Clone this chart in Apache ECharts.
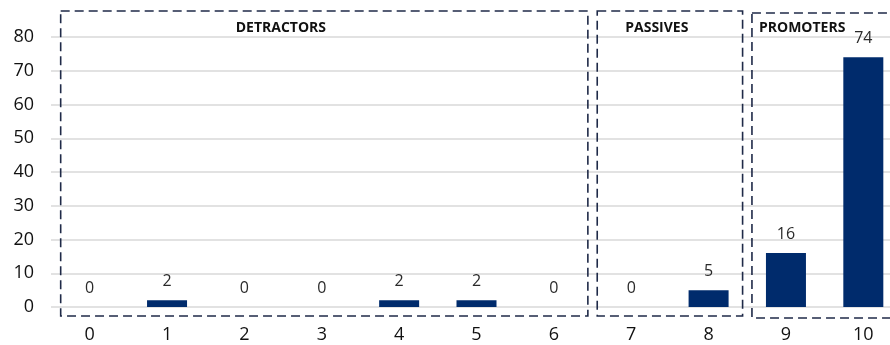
<!DOCTYPE html>
<html>
<head>
<meta charset="utf-8">
<script src="https://cdn.jsdelivr.net/npm/echarts@6/dist/echarts.min.js"></script>
<style>
  html, body { margin: 0; padding: 0; background: #fff; }
  #chart { width: 890px; height: 345px; }
</style>
</head>
<body>
<div id="chart"></div>
<script>
// NPS score distribution: count of responses per score 0-10
const scores = ['0', '1', '2', '3', '4', '5', '6', '7', '8', '9', '10'];
const counts = [0, 2, 0, 0, 2, 2, 0, 0, 5, 16, 74];
const yTicks = { min: 0, max: 80, interval: 10 };

// Score groups, given as first/last category index
const groupNames = ['DETRACTORS', 'PASSIVES', 'PROMOTERS'];
const groupFrom = [0, 7, 9];
const groupTo = [6, 8, 10];
// Title inset from each box's left edge
const titleInset = [175, 28, 7];

const FONT = 'Open Sans, Liberation Sans, sans-serif';
const chart = echarts.init(document.getElementById('chart'));

chart.setOption({
  animation: false,
  grid: {
    left: 51, right: -12, top: 37, bottom: 38,
    containLabel: false, outerBoundsMode: 'none'
  },
  xAxis: {
    type: 'category',
    data: scores,
    axisLine: { show: false },
    axisTick: { show: false },
    axisLabel: { color: '#111', fontSize: 18, fontFamily: FONT, margin: 19 }
  },
  yAxis: {
    type: 'value',
    min: yTicks.min,
    max: yTicks.max,
    interval: yTicks.interval,
    axisLine: { show: false },
    axisTick: { show: false },
    axisLabel: { color: '#111', fontSize: 18, fontFamily: FONT, margin: 17 },
    splitLine: { lineStyle: { color: '#d9d9d9', width: 1.5 } }
  },
  series: [{
    type: 'bar',
    data: counts,
    barWidth: 40,
    itemStyle: { color: '#002B6C' },
    label: {
      show: true,
      position: 'top',
      distance: 11,
      color: '#2a2a2a',
      fontSize: 16,
      fontFamily: FONT
    }
  }]
});

// Dashed boxes around each score group, placed from the axis scales
function drawGroups() {
  const yTop = chart.convertToPixel({ yAxisIndex: 0 }, 80) - 26;
  const yBot = chart.convertToPixel({ yAxisIndex: 0 }, 0) + 9;
  const els = [];
  groupNames.forEach((name, i) => {
    const xa = chart.convertToPixel({ xAxisIndex: 0 }, scores[groupFrom[i]]);
    const xb = chart.convertToPixel({ xAxisIndex: 0 }, scores[groupTo[i]]);
    const left = i === 0 ? xa - 29 : xa - 34;
    const right = i === 2 ? 900 : xb + 34;
    const off = i === 2 ? 2 : 0;
    els.push({
      type: 'rect',
      shape: { x: left, y: yTop + off, width: right - left, height: yBot - yTop },
      style: { fill: 'none', stroke: '#1f2a48', lineWidth: 1.6, lineDash: [9, 5] },
      z: 10
    });
    els.push({
      type: 'text',
      x: left + titleInset[i],
      y: yTop + 17,
      style: {
        text: name,
        fill: '#111',
        font: 'bold 14px ' + FONT,
        align: 'left',
        verticalAlign: 'middle'
      },
      z: 11
    });
  });
  chart.setOption({ graphic: els });
}
drawGroups();
</script>
</body>
</html>
